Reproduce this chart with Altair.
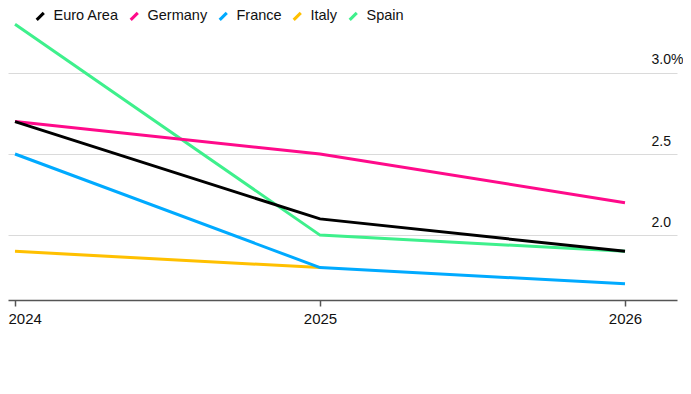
import altair as alt
import pandas as pd

years = [2024, 2025, 2026]
series_order = ["Euro Area", "Germany", "France", "Italy", "Spain"]
colors = ["#000000", "#ff0a8a", "#00aaff", "#ffc000", "#3ef08c"]

euro_area = [2.7, 2.1, 1.9]
germany = [2.7, 2.5, 2.2]
france = [2.5, 1.8, 1.7]
italy = [1.9, 1.8]
spain = [3.3, 2.0, 1.9]

values = {
    "Spain": spain,
    "Italy": italy,
    "France": france,
    "Germany": germany,
    "Euro Area": euro_area,
}

rows = []
for name, vals in values.items():
    for yr, v in zip(years, vals):
        rows.append({"year": yr, "value": v, "series": name})
df = pd.DataFrame(rows)

FONT = "Liberation Sans"

chart = (
    alt.Chart(df)
    .mark_line(strokeWidth=3, strokeCap="butt", strokeJoin="miter")
    .encode(
        x=alt.X(
            "year:Q",
            scale=alt.Scale(domain=[2023.977, 2026.1705], nice=False, zero=False),
            axis=alt.Axis(
                values=years,
                format="d",
                title=None,
                grid=False,
                domainColor="#555555",
                domainWidth=1.5,
                tickColor="#555555",
                tickWidth=1.5,
                tickSize=6,
                labelPadding=5,
                labelFontSize=15,
                labelColor="#111111",
                labelFont=FONT,
                labelFlush=10,
                labelFlushOffset=7,
            ),
        ),
        y=alt.Y(
            "value:Q",
            scale=alt.Scale(domain=[1.6, 3.4], nice=False, zero=False),
            axis=alt.Axis(
                orient="right",
                values=[2.0, 2.5, 3.0],
                labelExpr="datum.value == 3 ? '3.0%' : format(datum.value, '.1f')",
                title=None,
                grid=True,
                gridColor="#dadada",
                gridWidth=1,
                domain=False,
                ticks=False,
                tickSize=0,
                labelAlign="left",
                labelBaseline="bottom",
                labelPadding=-26,
                labelOffset=-6,
                labelFontSize=14,
                labelColor="#111111",
                labelFont=FONT,
            ),
        ),
        color=alt.Color(
            "series:N",
            scale=alt.Scale(domain=series_order, range=colors),
            legend=alt.Legend(
                title=None,
                orient="none",
                legendX=25,
                legendY=1,
                direction="horizontal",
                symbolType="M-1,1L1,-1",
                symbolSize=50,
                symbolStrokeWidth=3,
                labelFontSize=14.5,
                labelFont=FONT,
                labelColor="#111111",
                columnPadding=5,
                labelOffset=6,
            ),
        ),
    )
    .properties(
        width=669,
        height=292,
        autosize=alt.AutoSizeParams(type="none"),
        padding={"left": 0, "top": 0, "right": 6, "bottom": 40},
    )
    .configure_view(stroke=None)
)

chart.save("out.html", embed_options={"renderer": "svg", "actions": False})
